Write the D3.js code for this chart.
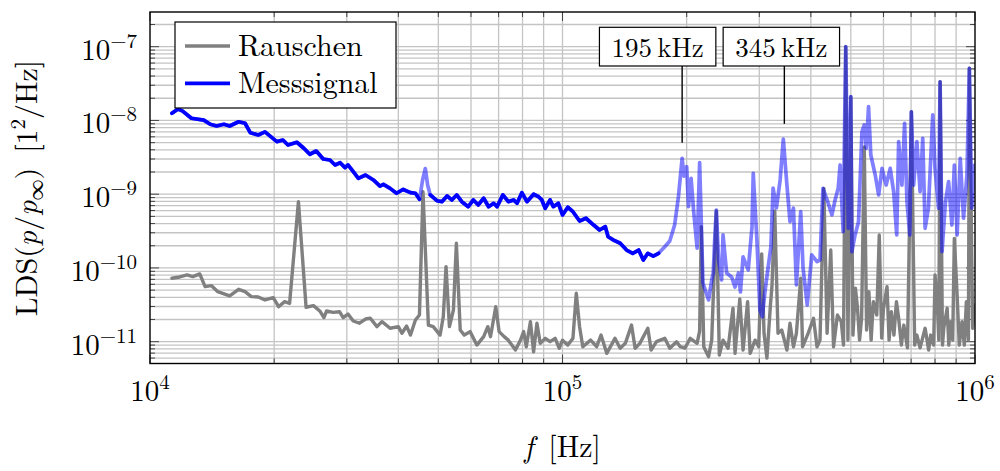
<!DOCTYPE html>
<html><head><meta charset="utf-8">
<script src="https://cdn.jsdelivr.net/npm/d3@7"></script>
<style>
body{margin:0;background:#fff}
svg{display:block}
</style>
</head><body>
<svg id="chart" width="1000" height="471"></svg>
<script>
// ---------- DATA (frequency in kHz, LDS in 1/Hz) ----------
const rauschenFreq = [
 11.3,11.8,12.3,12.7,13.2,13.6,14.1,14.6,15.6,16.4,
 17.0,17.6,18.3,19.0,19.9,20.5,21.2,21.8,22.9,23.9,
 24.9,25.8,26.4,26.8,27.8,28.8,29.4,30.2,31.1,32.2,
 33.3,34.2,35.5,36.5,38.2,40.0,40.8,41.9,42.8,44.0,
 45.0,45.9,47.3,48.6,50.5,51.4,52.2,53.2,54.4,55.3,
 56.5,57.8,59.7,62.0,64.4,65.9,66.9,68.9,70.2,72.2,
 73.9,76.9,79.1,80.5,81.7,83.6,85.1,86.7,88.3,90.8,
 93.3,96.0,98.2,100,103,106,108,110,112,117,
 121,124,128,132,134,138,142,147,150,154,
 161,164,169,177,182,189,193,198,204,212,
 215,217,220,226,230,236,240,245,252,259,
 262,269,274,281,285,293,299,304,308,313,
 319,322,327,333,340,350,356,363,369,378,
 382,394,406,414,421,430,438,447,454,464,
 474,480,486,492,500,506,513,519,525,531,
 539,546,553,560,567,578,586,594,600,612,
 619,627,636,645,653,663,672,686,701,714,
 723,736,757,772,781,794,800,810,817,823,
 834,840,856,864,872,883,891,905,916,930,
 942,953,964,969,987,1000];
const rauschenLDS = [
 7.24e-11,7.55e-11,8.03e-11,7.62e-11,8.3e-11,5.57e-11,5.75e-11,4.77e-11,4.17e-11,5.13e-11,
 4.77e-11,4.08e-11,4.04e-11,3.68e-11,3.95e-11,2.98e-11,3.49e-11,3.32e-11,7.92e-10,2.93e-11,
 3.08e-11,2.61e-11,2.12e-11,2.61e-11,2.5e-11,2.55e-11,2.12e-11,2.37e-11,1.91e-11,1.78e-11,
 2.03e-11,2.08e-11,1.6e-11,1.87e-11,1.52e-11,1.6e-11,1.3e-11,1.63e-11,1.23e-11,1.97e-11,
 2.3e-11,1.08e-9,1.68e-11,1.6e-11,1.23e-11,2.18e-11,1.04e-10,1.6e-11,2.69e-11,2.16e-10,
 1.44e-11,1.23e-11,1.37e-11,9.0e-12,1.17e-11,1.6e-11,1.17e-11,2.98e-11,1.37e-11,1.17e-11,
 1.05e-11,7.7e-12,1.05e-11,1.37e-11,8.55e-12,1.87e-11,7.3e-12,1.78e-11,9.5e-12,1.11e-11,
 1.0e-11,1.11e-11,8.15e-12,1.05e-11,9.0e-12,1.11e-11,4.53e-11,1.6e-11,8.55e-12,1.05e-11,
 8.55e-12,1.23e-11,6.96e-12,9.5e-12,1.11e-11,8.15e-12,9.5e-12,1.68e-11,8.15e-12,9.5e-12,
 1.52e-11,7.7e-12,1.0e-11,1.11e-11,8.15e-12,1.0e-11,8.55e-12,8.15e-12,1.11e-11,9.5e-12,
 1.4e-11,3.63e-10,8.55e-12,6.25e-12,1.05e-11,5.92e-10,6.6e-12,1.05e-11,8.15e-12,2.84e-11,
 6.96e-12,3.79e-11,7.7e-12,3.49e-11,6.96e-12,1.05e-11,8.55e-12,1.55e-10,1.3e-11,6.0e-12,
 2.98e-11,5.7e-11,5.92e-10,1.3e-11,1.44e-11,7.7e-12,1.78e-11,8.55e-12,1.3e-11,7.24e-11,
 8.55e-12,1.3e-11,2.08e-11,8.55e-12,1.05e-11,1.2e-9,1.3e-11,1.75e-10,8.55e-12,2.3e-11,
 1.87e-11,9.0e-12,1.0e-7,1.05e-11,2.1e-8,1.23e-11,5.3e-11,2.84e-11,1.05e-11,2.08e-11,
 4.37e-9,1.44e-11,4.77e-11,1.05e-11,3.49e-11,2.3e-11,2.8e-10,1.12e-11,2.84e-11,5.57e-11,
 1.05e-11,2.55e-11,1.23e-11,3.49e-11,2.08e-11,9.0e-12,1.68e-11,8.25e-12,1.31e-8,9.0e-12,
 1.23e-11,8.25e-12,1.52e-11,7.7e-12,1.23e-11,9.0e-12,8.03e-11,3.49e-11,1.05e-11,3.35e-8,
 9.0e-12,1.52e-11,2.84e-11,9.0e-12,1.87e-11,1.05e-11,2.52e-10,4.3e-11,9.0e-12,1.87e-11,
 9.0e-12,3.49e-11,1.05e-11,5.1e-8,1.52e-11,3.15e-11];

const messFreq = [
 11.3,11.7,12.0,12.6,13.5,14.0,14.5,15.1,15.6,16.4,
 17.0,17.5,18.3,19.0,20.3,21.0,21.6,22.7,23.6,24.4,
 25.3,26.3,27.3,28.1,28.9,29.7,30.2,31.1,32.0,33.3,
 34.8,36.1,36.8,38.2,39.6,41.1,42.8,44.0,45.0,45.8,
 46.5,47.1,47.8,49.6,51.0,52.5,53.9,55.4,57.0,59.1,
 60.8,62.5,64.4,66.2,68.1,69.4,71.7,73.9,76.1,77.6,
 79.7,82.0,85.1,87.5,89.1,90.8,93.3,95.0,97.7,100,
 103,106,110,114,119,123,127,129,133,138,
 143,148,153,157,161,166,171,177,182,187,
 191,195,197,200,202,205,208,212,215,219,
 226,230,232,234,236,239,243,245,250,257,
 262,267,270,274,282,288,290,296,301,305,
 310,315,320,324,330,337,343,350,356,363,
 369,378,383,392,402,414,421,428,438,450,
 458,466,471,479,486,493,500,503,512,522,
 532,539,545,552,559,573,584,595,609,623,
 635,646,653,665,675,684,695,701,710,723,
 736,747,757,771,790,800,816,823,832,848,
 863,879,891,905,921,938,956,969,982,998];
const messLDS = [
 1.25e-8,1.43e-8,1.34e-8,1.07e-8,1.01e-8,8.88e-9,8.42e-9,8.88e-9,8.4e-9,9.6e-9,
 9.16e-9,6.83e-9,6.36e-9,7.0e-9,5.16e-9,5.43e-9,4.65e-9,5.06e-9,4.2e-9,3.48e-9,
 3.85e-9,3.0e-9,2.91e-9,2.49e-9,2.67e-9,2.29e-9,2.49e-9,2.02e-9,1.64e-9,1.82e-9,
 1.56e-9,1.29e-9,1.36e-9,1.2e-9,1.03e-9,1.16e-9,1.05e-9,1.03e-9,8.54e-10,1.56e-9,
 2.23e-9,1.33e-9,9.77e-10,8.16e-10,7.92e-10,9.46e-10,8.36e-10,9.77e-10,7.92e-10,6.77e-10,
 8.36e-10,7.15e-10,8.82e-10,6.77e-10,7.53e-10,6.77e-10,9.77e-10,7.92e-10,8.36e-10,7.53e-10,
 1.05e-9,7.92e-10,1.0e-9,9.23e-10,8.36e-10,6.45e-10,8.36e-10,6.77e-10,7.53e-10,5.23e-10,
 6.65e-10,5.79e-10,4.33e-10,4.72e-10,3.82e-10,3.27e-10,3.63e-10,2.65e-10,2.39e-10,2.16e-10,
 1.75e-10,1.58e-10,1.75e-10,1.28e-10,1.58e-10,1.45e-10,1.58e-10,1.94e-10,2.32e-10,3.82e-10,
 9.23e-10,3.07e-9,1.76e-9,2.36e-9,6.77e-10,1.64e-9,5.74e-10,1.86e-10,2.69e-9,6.25e-11,
 3.68e-11,6.87e-11,8.54e-11,2.63e-10,6.11e-10,1.28e-10,6.87e-11,2.8e-10,8.54e-11,7.55e-11,
 5.5e-11,8.54e-11,4.72e-11,1.41e-10,9.4e-11,3.59e-10,1.92e-9,2.39e-10,2.69e-11,2.18e-11,
 5.02e-11,1.0e-10,1.92e-10,1.21e-9,6.5e-10,1.56e-9,5.6e-9,1.33e-9,4.24e-10,6.45e-10,
 5.87e-11,5.79e-10,9.9e-11,3.15e-11,1.5e-10,1.22e-10,1.28e-10,1.2e-9,8.36e-10,5.23e-10,
 8.36e-10,1.21e-9,2.49e-9,3.1e-10,1.0e-7,3.45e-10,2.1e-8,1.66e-10,2.8e-10,4.24e-10,
 7.0e-9,8.7e-9,4.2e-9,1.54e-8,3.4e-9,1.82e-9,9.77e-10,2.24e-9,1.33e-9,2.24e-9,
 1.08e-9,2.8e-10,5.16e-9,1.33e-9,9.16e-9,7.92e-10,2.8e-10,1.31e-8,1.33e-9,5.16e-9,
 1.08e-9,5.73e-9,3.45e-10,6.45e-10,1.19e-8,2.24e-9,6.45e-10,3.35e-8,1.66e-10,7.92e-10,
 1.48e-9,3.82e-10,2.49e-9,2.8e-10,3.07e-9,4.72e-10,1.82e-9,5.1e-8,6.45e-10,2.49e-9];

// frequency ranges (kHz) where the measured signal is drawn fully opaque
const messSolidRanges = [[11, 45.2], [47.5, 172]];

const seriesNames = ["Rauschen", "Messsignal"];
const xTickExponents = [4, 5, 6];
const yTickExponents = [-11, -10, -9, -8, -7];
const annotationLabels = ["195\u2009kHz", "345\u2009kHz"];
const annotationFreq = [195, 345];      // kHz
const annotationLDS = [5e-9, 9e-9];

// ---------- LAYOUT ----------
const FONT = "'Latin Modern Roman', 'Liberation Serif', serif";
const L = 150, R = 975, T = 12, B = 363.5;
const svg = d3.select("#chart");

const x = d3.scaleLog().domain([1e4, 1e6]).range([L, R]);
const y = d3.scaleLog().domain([1e-11, 1e-7]).range([341.7, 46.7]);
const yMin = y.invert(B), yMax = y.invert(T);

const xGrid = [];
for (let e = 4; e < 6; e++) for (let m = 1; m <= 9; m++) xGrid.push(m * Math.pow(10, e));
xGrid.push(1e6);
const yGrid = [];
for (let e = -12; e <= -7; e++) for (let m = 1; m <= 9; m++) {
  const v = m * Math.pow(10, e);
  if (v > yMin && v < yMax) yGrid.push(v);
}
const isDecade = v => Math.abs(Math.log10(v) - Math.round(Math.log10(v))) < 1e-9;

const grid = svg.append("g").attr("stroke", "#c4c4c4").attr("stroke-width", 1.3);
grid.selectAll(".gx").data(xGrid.filter(v => x(v) > L + 1 && x(v) < R - 1)).join("line")
  .attr("x1", d => x(d)).attr("x2", d => x(d)).attr("y1", T).attr("y2", B);
grid.selectAll(".gy").data(yGrid).join("line")
  .attr("x1", L).attr("x2", R).attr("y1", d => y(d)).attr("y2", d => y(d));

const tk = svg.append("g").attr("stroke", "#444").attr("stroke-width", 1);
xGrid.forEach(v => {
  const len = isDecade(v) ? 9 : 5;
  tk.append("line").attr("x1", x(v)).attr("x2", x(v)).attr("y1", B).attr("y2", B - len);
  tk.append("line").attr("x1", x(v)).attr("x2", x(v)).attr("y1", T).attr("y2", T + len);
});
yGrid.forEach(v => {
  const len = isDecade(v) ? 9 : 5;
  tk.append("line").attr("x1", L).attr("x2", L + len).attr("y1", y(v)).attr("y2", y(v));
  tk.append("line").attr("x1", R).attr("x2", R - len).attr("y1", y(v)).attr("y2", y(v));
});

svg.append("clipPath").attr("id", "clip").append("rect")
  .attr("x", L).attr("y", T).attr("width", R - L).attr("height", B - T);
const plot = svg.append("g").attr("clip-path", "url(#clip)");

const rauschen = rauschenFreq.map((f, i) => ({f: f * 1e3, v: rauschenLDS[i]}));
const mess = messFreq.map((f, i) => ({f: f * 1e3, v: messLDS[i], solid: messSolidRanges.some(r => f >= r[0] && f <= r[1])}));

const line = d3.line().x(d => x(d.f)).y(d => y(d.v));
plot.append("path").datum(rauschen).attr("d", line)
  .attr("fill", "none").attr("stroke", "#808080").attr("stroke-width", 3.4)
  .attr("stroke-linejoin", "round").attr("stroke-linecap", "round");
plot.append("path").datum(mess).attr("d", line)
  .attr("fill", "none").attr("stroke", "#0000ff").attr("stroke-opacity", 0.5).attr("stroke-width", 3.7)
  .attr("stroke-linejoin", "round").attr("stroke-linecap", "round");
plot.append("path").datum(mess).attr("d", line.defined(d => d.solid))
  .attr("fill", "none").attr("stroke", "#0000ff").attr("stroke-width", 3.7)
  .attr("stroke-linejoin", "round").attr("stroke-linecap", "round");

svg.append("rect").attr("x", L).attr("y", T).attr("width", R - L).attr("height", B - T)
  .attr("fill", "none").attr("stroke", "#000").attr("stroke-width", 1.4);

const txt = (sel) => sel.append("text").attr("font-family", FONT).attr("fill", "#000");

yTickExponents.forEach(e => {
  const t = txt(svg).attr("x", 137).attr("y", y(Math.pow(10, e)) + 13)
    .attr("text-anchor", "end").attr("font-size", 29);
  t.append("tspan").text("10");
  t.append("tspan").attr("font-size", 21).attr("dy", -12).text("\u2212" + Math.abs(e));
});
xTickExponents.forEach(e => {
  const t = txt(svg).attr("x", x(Math.pow(10, e))).attr("y", 401)
    .attr("text-anchor", "middle").attr("font-size", 29);
  t.append("tspan").text("10");
  t.append("tspan").attr("font-size", 21).attr("dy", -12).text(String(e));
});

const yl = txt(svg).attr("transform", "translate(37,188) rotate(-90)")
  .attr("text-anchor", "middle").attr("font-size", 30);
yl.append("tspan").text("LDS(");
yl.append("tspan").attr("font-style", "italic").text("p");
yl.append("tspan").text("/");
yl.append("tspan").attr("font-style", "italic").text("p");
yl.append("tspan").attr("font-size", 21).attr("dy", 6).text("\u221e");
yl.append("tspan").attr("dy", -6).text(")\u2002[1");
yl.append("tspan").attr("font-size", 21).attr("dy", -12).text("2");
yl.append("tspan").attr("dy", 12).text("/Hz]");

const xl = txt(svg).attr("x", (L + R) / 2).attr("y", 457)
  .attr("text-anchor", "middle").attr("font-size", 30);
xl.append("tspan").attr("font-style", "italic").text("f");
xl.append("tspan").text("\u2002[Hz]");

const lg = svg.append("g");
lg.append("rect").attr("x", 175).attr("y", 22).attr("width", 221).attr("height", 86)
  .attr("fill", "#fff").attr("stroke", "#000").attr("stroke-width", 1.2);
const legendColors = ["#808080", "#0000ff"];
const legendY = [46, 83.3];
seriesNames.forEach((n, i) => {
  lg.append("line").attr("x1", 185).attr("x2", 230).attr("y1", legendY[i]).attr("y2", legendY[i])
    .attr("stroke", legendColors[i]).attr("stroke-width", i ? 3.7 : 3.4);
  txt(lg).attr("x", 238).attr("y", legendY[i] + 9.5).attr("font-size", 30).text(n);
});

const boxShift = [-24.5, -3];
annotationLabels.forEach((lab, i) => {
  const px = x(annotationFreq[i] * 1e3);
  const cx = px + boxShift[i];
  const g = svg.append("g");
  g.append("line").attr("x1", px).attr("x2", px).attr("y1", 66).attr("y2", y(annotationLDS[i]))
    .attr("stroke", "#000").attr("stroke-width", 1.4);
  const t = txt(g).attr("x", cx).attr("y", 56.5).attr("text-anchor", "middle")
    .attr("font-size", 27).text(lab);
  const w = t.node().getComputedTextLength();
  g.insert("rect", "text").attr("x", cx - w / 2 - 12).attr("y", 27.3)
    .attr("width", w + 24).attr("height", 38.7)
    .attr("fill", "#fff").attr("stroke", "#000").attr("stroke-width", 1.2);
});
</script>
</body></html>
